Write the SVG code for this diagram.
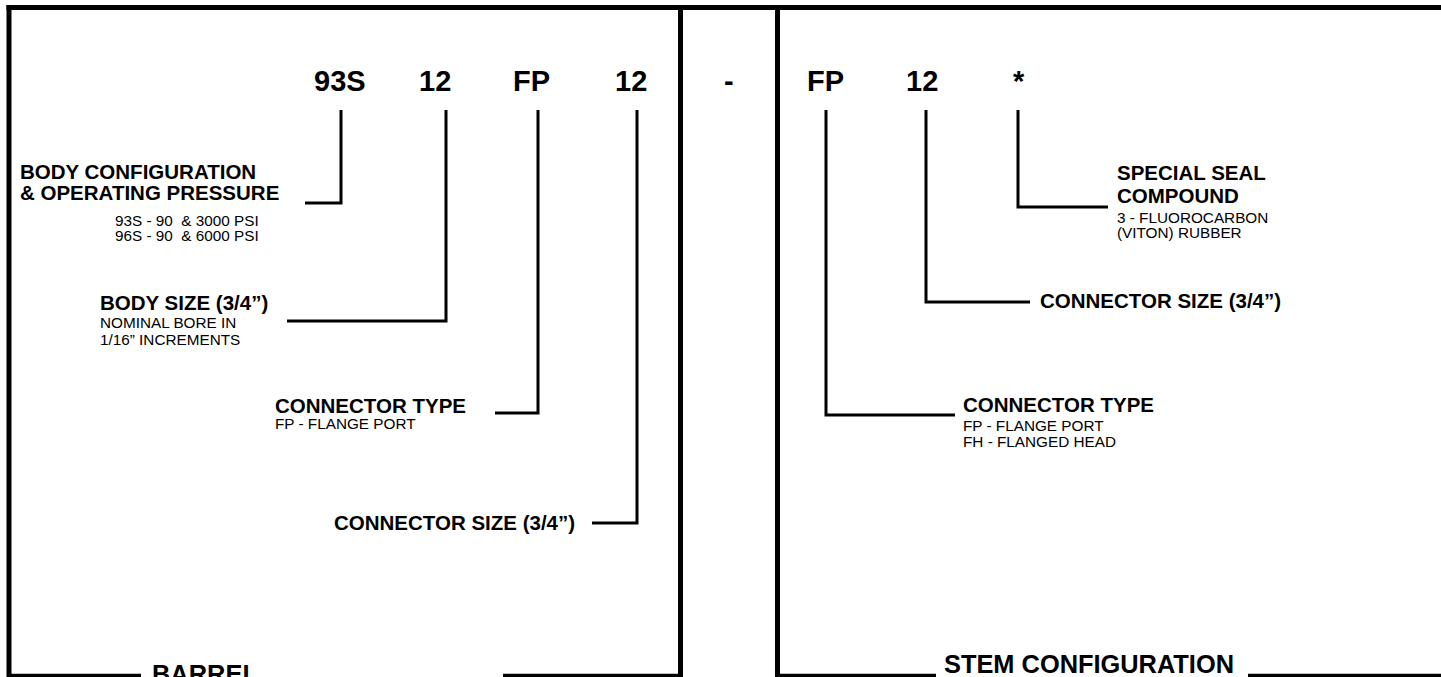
<svg xmlns="http://www.w3.org/2000/svg" width="1441" height="677" viewBox="0 0 1441 677">
<style>
text{font-family:"Liberation Sans",Arial,sans-serif;fill:#000}
.code{font-weight:bold;font-size:29px}
.b{font-weight:bold;font-size:20.5px}
.s{font-size:15.3px}
.t{font-weight:bold;font-size:25px}
.frame{stroke:#000;stroke-width:5;fill:none}
.base{stroke:#000;stroke-width:3.5;fill:none}
.lead{stroke:#000;stroke-width:3;fill:none}
</style>
<rect width="1441" height="677" fill="#fff"/>
<g id="frame">
<path class="frame" d="M6.5 7.5 H1441"/>
<path class="frame" d="M9 5 V677"/>
<path class="frame" d="M680.5 10 V677"/>
<path class="frame" d="M777.5 10 V677"/>
<path class="base" d="M7 675.5 H141 M503 675.5 H683 M776 675.5 H936 M1248 675.5 H1441"/>
</g>
<g id="barrel-title"><text class="t" x="152" y="683" textLength="106" lengthAdjust="spacingAndGlyphs">BARREL</text></g>
<g id="stem-title"><text class="t" x="944" y="673" textLength="290" lengthAdjust="spacingAndGlyphs">STEM CONFIGURATION</text></g>
<g id="codes">
<text class="code" x="314" y="91">93S</text>
<text class="code" x="419" y="91">12</text>
<text class="code" x="513" y="91">FP</text>
<text class="code" x="615" y="91">12</text>
<text class="code" x="724" y="91">-</text>
<text class="code" x="807" y="91">FP</text>
<text class="code" x="906" y="91">12</text>
<text class="code" x="1013" y="91">*</text>
</g>
<g id="connectors">
<path class="lead" d="M341 110 V203 H305"/>
<path class="lead" d="M446 110 V321 H287"/>
<path class="lead" d="M538 110 V413 H495"/>
<path class="lead" d="M637 110 V523 H592"/>
<path class="lead" d="M826 110 V415 H955"/>
<path class="lead" d="M926 110 V302 H1030"/>
<path class="lead" d="M1018 110 V207 H1108"/>
</g>
<g id="body-config">
<text class="b" x="20" y="179">BODY CONFIGURATION</text>
<text class="b" x="20" y="200">&amp; OPERATING PRESSURE</text>
<text class="s" x="115" y="226" xml:space="preserve">93S - 90  &amp; 3000 PSI</text>
<text class="s" x="115" y="241" xml:space="preserve">96S - 90  &amp; 6000 PSI</text>
</g>
<g id="body-size">
<text class="b" x="100" y="310">BODY SIZE (3/4”)</text>
<text class="s" x="100" y="328">NOMINAL BORE IN</text>
<text class="s" x="100" y="345">1/16” INCREMENTS</text>
</g>
<g id="connector-type-left">
<text class="b" x="275" y="413">CONNECTOR TYPE</text>
<text class="s" x="275" y="429">FP - FLANGE PORT</text>
</g>
<g id="connector-size-left">
<text class="b" x="334" y="530">CONNECTOR SIZE (3/4”)</text>
</g>
<g id="seal">
<text class="b" x="1117" y="180">SPECIAL SEAL</text>
<text class="b" x="1117" y="203">COMPOUND</text>
<text class="s" x="1117" y="223">3 - FLUOROCARBON</text>
<text class="s" x="1117" y="238">(VITON) RUBBER</text>
</g>
<g id="connector-size-right">
<text class="b" x="1040" y="308">CONNECTOR SIZE (3/4”)</text>
</g>
<g id="connector-type-right">
<text class="b" x="963" y="412">CONNECTOR TYPE</text>
<text class="s" x="963" y="431">FP - FLANGE PORT</text>
<text class="s" x="963" y="447">FH - FLANGED HEAD</text>
</g>
</svg>
